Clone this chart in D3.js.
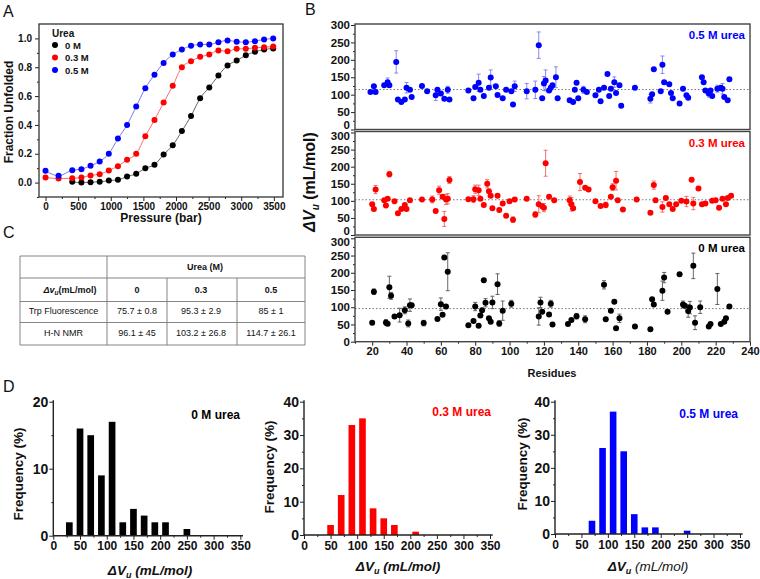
<!DOCTYPE html>
<html><head><meta charset="utf-8">
<script src="https://cdn.jsdelivr.net/npm/d3@7"></script>
<style>
body{margin:0;background:#fff;}
svg{font-family:Arial,"Liberation Sans",sans-serif;display:block;}
</style></head><body>
<svg id="c" width="760" height="579"></svg>
<script>
// ---------- DATA ----------
// Panel A
const pressure = [0,200,410,550,690,830,970,1110,1250,1390,1530,1670,1810,1950,2090,2230,2370,2510,2650,2790,2930,3070,3210,3350,3490];
const frac0M  = [null,null,0.005,0.0,0.003,0.005,0.014,0.019,0.042,0.061,0.10,0.124,0.194,0.259,0.357,0.462,0.585,0.66,0.743,0.813,0.846,0.883,0.907,0.923,0.93];
const frac03M = [0.035,0.028,0.03,0.035,0.05,0.058,0.084,0.114,0.159,0.20,0.322,0.434,0.555,0.671,0.80,0.841,0.872,0.888,0.916,0.911,0.928,0.928,0.935,0.939,0.944];
const frac05M = [0.082,0.047,0.086,0.093,0.117,0.147,0.20,0.305,0.40,0.527,0.655,0.748,0.83,0.888,0.923,0.949,0.958,0.958,0.974,0.986,0.977,0.974,0.981,0.993,1.0];
const legendLabels = ["0 M","0.3 M","0.5 M"];
const pressureTicks = [0,500,1000,1500,2000,2500,3000,3500];
const fracTicks = [0,0.2,0.4,0.6,0.8,1.0];

// Panel B
const res05M = [19,21,22,27,29,30,34,35,37,39,40,42,43,49,52,57,58,60,62,64,65,76,79,80,82,83,85,88,89,92,93,96,98,101,102,103,110,115,117,119,120,121,123,124,125,127,128,135,137,138,139,140,143,145,150,152,153,155,157,158,159,161,162,164,165,173,182,183,184,188,189,190,193,194,195,199,201,203,204,212,213,214,216,217,218,221,223,224,225,227,228];
const dv05M  = [108,124,108,127,136,127,194,86,79,86,120,114,93,125,110,98,114,103,88,114,86,112,90,122,134,114,96,120,149,124,99,90,114,110,72,124,110,114,242,90,132,141,112,120,127,150,90,84,79,114,134,90,114,108,98,114,81,120,159,96,117,136,105,127,68,120,88,101,173,110,186,136,130,105,90,75,117,98,91,150,136,112,103,112,96,117,120,117,93,84,144];
const err05M = [4,4,4,4,12,4,32,4,4,4,15,4,4,4,4,15,4,4,4,10,4,4,4,4,25,4,4,4,22,4,4,4,4,4,4,15,22,25,38,4,20,30,4,4,4,30,4,4,4,4,4,4,10,4,4,4,4,4,4,4,4,15,4,4,4,4,12,4,4,4,25,4,4,4,4,4,4,4,4,4,4,4,10,4,4,10,4,15,4,4,4];

const res03M = [20,21,22,27,28,29,30,33,35,37,39,40,42,49,55,57,59,61,62,63,64,65,76,79,80,82,83,85,87,88,89,90,93,94,96,98,100,102,103,110,115,117,119,120,121,123,126,135,136,137,141,144,146,150,153,156,159,160,162,163,166,174,182,184,185,189,191,193,195,197,200,203,206,207,210,212,214,218,220,222,224,226,227,229];
const dv03M  = [90,76,133,102,86,106,178,99,64,76,88,76,102,104,104,70,131,112,47,104,106,161,105,105,134,131,106,88,150,128,115,78,115,73,92,56,99,45,104,106,60,90,84,80,210,112,102,102,90,78,155,138,133,99,85,88,112,140,159,102,75,104,65,146,102,82,108,90,76,90,100,98,162,92,136,90,92,100,102,80,106,90,108,115];
const err03M = [4,4,12,4,4,4,8,4,4,4,4,4,4,4,10,4,12,4,22,15,15,10,4,10,12,15,4,4,12,4,4,4,4,4,4,4,4,8,4,4,8,25,4,12,38,4,4,12,20,4,25,4,4,4,4,8,4,10,27,4,4,4,4,12,4,15,4,4,4,4,4,15,4,18,4,4,4,4,4,4,4,4,4,4];

const res0M = [20,21,28,29,30,31,33,36,39,41,42,43,50,58,60,61,62,63,64,76,79,80,82,83,84,85,86,88,89,90,93,94,96,101,117,118,119,123,124,125,134,136,139,144,155,156,159,161,162,164,173,182,183,184,189,190,192,199,201,202,204,205,207,208,211,216,217,221,223,225,226,228];
const dv0M  = [55,145,56,52,158,133,73,77,91,53,106,106,54,66,109,78,244,102,203,48,60,102,46,76,91,178,113,68,58,114,167,53,90,110,73,114,87,79,110,50,51,63,74,65,165,65,90,116,39,68,44,36,123,108,148,186,87,196,108,104,89,99,220,55,100,44,51,153,51,58,68,102];
const err0M = [4,8,8,4,32,10,4,20,10,10,18,4,8,4,18,4,4,4,55,4,4,12,4,4,4,4,12,4,4,18,30,8,28,10,25,15,4,4,10,4,4,4,8,10,12,4,4,4,4,12,4,4,4,4,28,15,4,4,10,4,18,18,37,20,18,4,4,45,4,4,4,4];

const meanNMR = {m0:96.1, m03:103.2, m05:114.7};
const residueTicks = [20,40,60,80,100,120,140,160,180,200,220,240];
const dvTicks = [0,50,100,150,200,250,300];

// Panel C
const tableCols = ["0","0.3","0.5"];
const tableRowNames = ["Trp Fluorescence","H-N NMR"];
const trpValues = ["75.7 ± 0.8","95.3 ± 2.9","85 ± 1"];
const nmrValues = ["96.1 ± 45","103.2 ± 26.8","114.7 ± 26.1"];

// Panel D
const binCenters = [30,50,70,90,110,130,150,170,190,210,230,250];
const hist0M  = [2,16,15,9,17,2,4,3,2,2,0,1];
const hist03M = [0,3,12,33,35,8,5,3,0,1,0,0];
const hist05M = [0,0,4,26,37,25,6,2,2,0,0,1];
const histXTicks = [0,50,100,150,200,250,300,350];

// ---------- DRAW ----------
const F = 'Arial, "Liberation Sans", sans-serif';
const svg = d3.select("#c");

function styleAxis(g, size, weight){
  g.select(".domain").remove();
  g.selectAll(".tick line").attr("stroke","#222").attr("stroke-width",1);
  g.selectAll("text").attr("font-size",size).attr("font-weight",weight||"bold")
    .attr("font-family",F).attr("fill","#111");
}
function label(x,y,s,size,opts){
  opts = opts||{};
  return svg.append("text").attr("x",x).attr("y",y).text(s)
    .attr("font-size",size).attr("font-family",F)
    .attr("font-weight",opts.weight||"normal")
    .attr("fill",opts.fill||"#111")
    .attr("text-anchor",opts.anchor||"start");
}

// Panel letters
label(3,17,"A",16);
label(305,15,"B",16);
label(3,238,"C",16);
label(3,392,"D",16);

// ---- Panel A ----
(function(){
  const ax = d3.scaleLinear().domain([-100,3640]).range([39,283]);
  const ay = d3.scaleLinear().domain([-0.1,1.1]).range([197,24]);
  const g = svg.append("g");
  g.append("g").attr("transform","translate(0,197)")
    .call(d3.axisBottom(ax).tickValues(d3.range(250,3500,500)).tickSize(2).tickFormat(""))
    .call(s=>styleAxis(s,10));
  g.append("g").attr("transform","translate(0,197)")
    .call(d3.axisBottom(ax).tickValues(pressureTicks).tickSize(4).tickPadding(2).tickFormat(d3.format("d")))
    .call(s=>styleAxis(s,10));
  g.append("g").attr("transform","translate(39,0)")
    .call(d3.axisLeft(ay).tickValues([-0.1,0.1,0.3,0.5,0.7,0.9]).tickSize(2).tickFormat(""))
    .call(s=>styleAxis(s,10));
  g.append("g").attr("transform","translate(39,0)")
    .call(d3.axisLeft(ay).tickValues(fracTicks).tickSize(4).tickPadding(3).tickFormat(d3.format(".1f")))
    .call(s=>styleAxis(s,10));
  g.append("rect").attr("x",39).attr("y",24).attr("width",244).attr("height",173)
    .attr("fill","none").attr("stroke","#333").attr("stroke-width",1.3);

  const series = [[frac0M,"#000","#555"],[frac03M,"#ff0000","#ff5a5a"],[frac05M,"#0000ff","#6a6aff"]];
  series.forEach(([vals,col,lcol])=>{
    const pts = pressure.map((p,i)=>[p,vals[i]]).filter(d=>d[1]!==null);
    g.append("path").datum(pts)
      .attr("d",d3.line().x(d=>ax(d[0])).y(d=>ay(d[1])).curve(d3.curveMonotoneX))
      .attr("fill","none").attr("stroke",lcol).attr("stroke-width",0.9);
    g.selectAll(null).data(pts).enter().append("circle")
      .attr("cx",d=>ax(d[0])).attr("cy",d=>ay(d[1])).attr("r",3).attr("fill",col);
  });
  // legend
  label(52,37,"Urea",10,{weight:"bold"});
  const lc = ["#000","#ff0000","#0000ff"];
  const ly = [45,57.5,70];
  legendLabels.forEach((t,i)=>{
    g.append("circle").attr("cx",55).attr("cy",ly[i]).attr("r",3).attr("fill",lc[i]);
    label(65,ly[i]+3.5,t,9.5,{weight:"bold"});
  });
  // titles
  label(161,222,"Pressure (bar)",12,{weight:"bold",anchor:"middle"});
  svg.append("text").attr("transform","translate(13,112) rotate(-90)")
    .attr("text-anchor","middle").attr("font-size",12).attr("font-weight","bold")
    .attr("font-family",F).attr("fill","#111").text("Fraction Unfolded");
})();

// ---- Panel B ----
(function(){
  const bx = d3.scaleLinear().domain([10,240]).range([355,750]);
  const panels = [
    {top:24,bottom:129.5,res:res05M,dv:dv05M,err:err05M,col:"#0000ff",ecol:"#7c7cf0",mean:meanNMR.m05,lab:"0.5 M urea"},
    {top:131.5,bottom:235,res:res03M,dv:dv03M,err:err03M,col:"#ff0000",ecol:"#f06060",mean:meanNMR.m03,lab:"0.3 M urea"},
    {top:237.3,bottom:341.7,res:res0M,dv:dv0M,err:err0M,col:"#000000",ecol:"#555",mean:meanNMR.m0,lab:"0 M urea",axis:true}
  ];
  panels.forEach((p,pi)=>{
    const y = d3.scaleLinear().domain([0,300]).range([p.bottom,p.top+1]);
    const g = svg.append("g");
    g.append("g").attr("transform","translate(355,0)")
      .call(d3.axisLeft(y).tickValues([25,75,125,175,225,275]).tickSize(2).tickFormat(""))
      .call(s=>styleAxis(s,11));
    const ya = g.append("g").attr("transform","translate(355,0)")
      .call(d3.axisLeft(y).tickValues(dvTicks).tickSize(4).tickPadding(1))
      .call(s=>styleAxis(s,11.5));
    // keep the stacked 0 / 300 labels from colliding at the panel joins
    ya.selectAll(".tick text").attr("dy",d=>{
      if(d===0 && !p.axis) return "-0.05em";
      if(d===300 && pi>0) return "0.62em";
      return "0.32em";
    });
    if(p.axis){
      g.append("g").attr("transform",`translate(0,${p.bottom})`)
        .call(d3.axisBottom(bx).tickValues(d3.range(10,240,20)).tickSize(2).tickFormat(""))
        .call(s=>styleAxis(s,11));
      g.append("g").attr("transform",`translate(0,${p.bottom})`)
        .call(d3.axisBottom(bx).tickValues(residueTicks).tickSize(4).tickPadding(2))
        .call(s=>styleAxis(s,11));
    }
    // mean line
    g.append("line").attr("x1",355).attr("x2",750).attr("y1",y(p.mean)).attr("y2",y(p.mean))
      .attr("stroke","#555").attr("stroke-width",0.8).attr("stroke-dasharray","1.5,2");
    const pts = p.res.map((r,i)=>({r:r,v:p.dv[i],e:p.err[i]}));
    const eb = g.append("g").attr("stroke",p.ecol).attr("stroke-width",0.9);
    pts.forEach(d=>{
      const x=bx(d.r), y1=y(d.v+d.e), y2=y(d.v-d.e);
      eb.append("line").attr("x1",x).attr("x2",x).attr("y1",y1).attr("y2",y2);
      eb.append("line").attr("x1",x-2).attr("x2",x+2).attr("y1",y1).attr("y2",y1);
      eb.append("line").attr("x1",x-2).attr("x2",x+2).attr("y1",y2).attr("y2",y2);
    });
    g.selectAll(null).data(pts).enter().append("circle")
      .attr("cx",d=>bx(d.r)).attr("cy",d=>y(d.v)).attr("r",3).attr("fill",p.col);
    g.append("rect").attr("x",355).attr("y",p.top).attr("width",395).attr("height",p.bottom-p.top)
      .attr("fill","none").attr("stroke","#444").attr("stroke-width",1.4);
    label(745,p.top+15,p.lab,11.5,{weight:"bold",fill:p.col,anchor:"end"});
  });
  label(552,377,"Residues",11,{weight:"bold",anchor:"middle"});
  const t = svg.append("text").attr("transform","translate(315,182) rotate(-90)")
    .attr("text-anchor","middle").attr("font-size",16).attr("font-weight","bold")
    .attr("font-family",F).attr("fill","#111");
  t.append("tspan").attr("font-style","italic").text("ΔV");
  t.append("tspan").attr("font-style","italic").attr("font-size",10).attr("dy",4).text("u");
  t.append("tspan").attr("dy",-4).text(" (mL/mol)");
})();

// ---- Panel C (table) ----
(function(){
  const g = svg.append("g").attr("stroke","#777").attr("stroke-width",0.9);
  const ys = [256,278,301.5,322.5,345];
  ys.forEach(yv=>g.append("line").attr("x1",20).attr("x2",305).attr("y1",yv).attr("y2",yv));
  g.append("line").attr("x1",20).attr("x2",20).attr("y1",256).attr("y2",345);
  g.append("line").attr("x1",107).attr("x2",107).attr("y1",256).attr("y2",345);
  g.append("line").attr("x1",305).attr("x2",305).attr("y1",256).attr("y2",345);
  g.append("line").attr("x1",167).attr("x2",167).attr("y1",278).attr("y2",345);
  g.append("line").attr("x1",237).attr("x2",237).attr("y1",278).attr("y2",345);
  const cx = [137,201,271];
  label(205,270,"Urea (M)",9,{weight:"bold",anchor:"middle"});
  const h = svg.append("text").attr("x",70).attr("y",293).attr("text-anchor","middle")
    .attr("font-size",9).attr("font-weight","bold").attr("font-family",F).attr("fill","#111");
  h.append("tspan").attr("font-style","italic").text("Δv");
  h.append("tspan").attr("font-style","italic").attr("font-size",6.5).attr("dy",2).text("u");
  h.append("tspan").attr("dy",-2).text("(mL/mol)");
  tableCols.forEach((c,i)=>label(cx[i],293,c,9,{weight:"bold",anchor:"middle"}));
  label(63.5,314,tableRowNames[0],9,{anchor:"middle"});
  label(63.5,336,tableRowNames[1],9,{anchor:"middle"});
  trpValues.forEach((v,i)=>label(cx[i],314,v,9,{anchor:"middle"}));
  nmrValues.forEach((v,i)=>label(cx[i],336,v,9,{anchor:"middle"}));
})();

// ---- Panel D ----
function hist(cfg){
  const x = d3.scaleLinear().domain([0,355]).range(cfg.xr);
  const y = d3.scaleLinear().domain([0,cfg.ymax]).range(cfg.yr);
  const g = svg.append("g");
  g.append("g").attr("transform",`translate(0,${cfg.yr[0]})`)
    .call(d3.axisBottom(x).tickValues(d3.range(25,350,50)).tickSize(2).tickFormat(""))
    .call(s=>styleAxis(s,12));
  g.append("g").attr("transform",`translate(0,${cfg.yr[0]})`)
    .call(d3.axisBottom(x).tickValues(histXTicks).tickSize(4).tickPadding(2))
    .call(s=>styleAxis(s,12));
  g.append("g").attr("transform",`translate(${cfg.xr[0]},0)`)
    .call(d3.axisLeft(y).tickValues(d3.range(5,cfg.ymax,10)).tickSize(2).tickFormat(""))
    .call(s=>styleAxis(s,14));
  g.append("g").attr("transform",`translate(${cfg.xr[0]},0)`)
    .call(d3.axisLeft(y).tickValues(d3.range(0,cfg.ymax+1,10)).tickSize(4).tickPadding(1))
    .call(s=>styleAxis(s,14));
  g.append("g").selectAll("rect").data(binCenters.map((c,i)=>[c,cfg.vals[i]]).filter(d=>d[1]>0))
    .enter().append("rect")
    .attr("x",d=>x(d[0]-6.25)).attr("width",x(12.5)-x(0))
    .attr("y",d=>y(d[1])).attr("height",d=>y(0)-y(d[1])).attr("fill",cfg.col);
  g.append("path").attr("d",`M${cfg.xr[0]},${cfg.yr[1]-1.5}V${cfg.yr[0]}H${cfg.xr[1]}`)
    .attr("fill","none").attr("stroke","#222").attr("stroke-width",1.4);
  label(cfg.labX,cfg.labY,cfg.lab,12,{weight:"bold",fill:cfg.col,anchor:"end"});
  svg.append("text").attr("transform",`translate(${cfg.fx},${cfg.fy}) rotate(-90)`)
    .attr("text-anchor","middle").attr("font-size",13.5).attr("font-weight","bold")
    .attr("font-family",F).attr("fill","#111").text("Frequency (%)");
  const xt = svg.append("text").attr("x",cfg.tx).attr("y",cfg.ty).attr("text-anchor","middle")
    .attr("font-size",13.5).attr("font-family",F).attr("fill","#111").attr("font-style","italic");
  xt.append("tspan").attr("font-weight","bold").text("ΔV");
  xt.append("tspan").attr("font-weight","bold").attr("font-size",9).attr("dy",3).text("u");
  xt.append("tspan").attr("dy",-3).attr("font-weight",cfg.boldUnit?"bold":"normal").text(" (mL/mol)");
}
hist({xr:[53.3,243],yr:[535.7,401.7],ymax:20,vals:hist0M,col:"#000000",lab:"0 M urea",labX:240,labY:419,fx:23,fy:474,tx:150,ty:575,boldUnit:true});
hist({xr:[304,492.7],yr:[535,401.7],ymax:40,vals:hist03M,col:"#ff0000",lab:"0.3 M urea",labX:491,labY:416,fx:274,fy:467,tx:398,ty:571,boldUnit:true});
hist({xr:[555,742.6],yr:[534,401.7],ymax:40,vals:hist05M,col:"#0000ff",lab:"0.5 M urea",labX:738,labY:418,fx:527,fy:464,tx:648,ty:571,boldUnit:false});
</script>
</body></html>
